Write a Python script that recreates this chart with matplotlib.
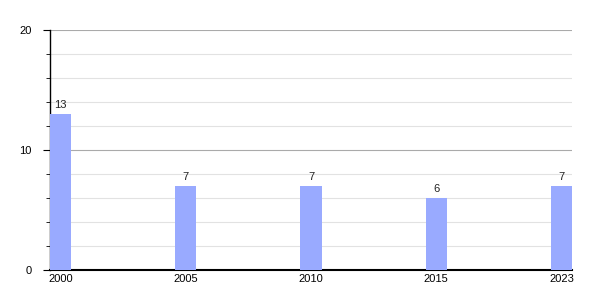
import matplotlib
matplotlib.use('Agg')
import matplotlib.pyplot as plt
import numpy as np

years = ['2000', '2005', '2010', '2015', '2023']
counts = [13, 7, 7, 6, 7]

plt.rcParams['font.family'] = ['Liberation Sans', 'DejaVu Sans']

fig = plt.figure(figsize=(6, 3), dpi=100)
ax = fig.add_axes([50/600, 30/300, 522/600, 240/300])

x = np.arange(len(years))
w = 0.168
bars = ax.bar(x, counts, width=w, color='#99aaff', zorder=3)
for xi, v in zip(x, counts):
    ax.text(xi, v + 0.3, str(v), ha='center', va='bottom', fontsize=8, color='#222222')

ax.set_xlim(-w/2, len(years) - 1 + w/2)
ax.set_ylim(0, 20)
ax.set_xticks(x)
ax.set_xticklabels(years)
ax.set_yticks([0, 10, 20])
ax.set_yticks([2, 4, 6, 8, 12, 14, 16, 18], minor=True)

ax.grid(axis='y', which='major', color='#aaaaaa', linewidth=0.8, zorder=0)
ax.grid(axis='y', which='minor', color='#e2e2e2', linewidth=0.8, zorder=0)

for s in ['top', 'right']:
    ax.spines[s].set_visible(False)
ax.spines['left'].set_linewidth(1.0)
ax.spines['bottom'].set_linewidth(1.5)
ax.tick_params(axis='x', length=0, labelsize=8, pad=3)
ax.tick_params(axis='y', which='major', length=5, labelsize=8, pad=8)
ax.tick_params(axis='y', which='minor', length=3)

fig.savefig('out.png', dpi=100)
